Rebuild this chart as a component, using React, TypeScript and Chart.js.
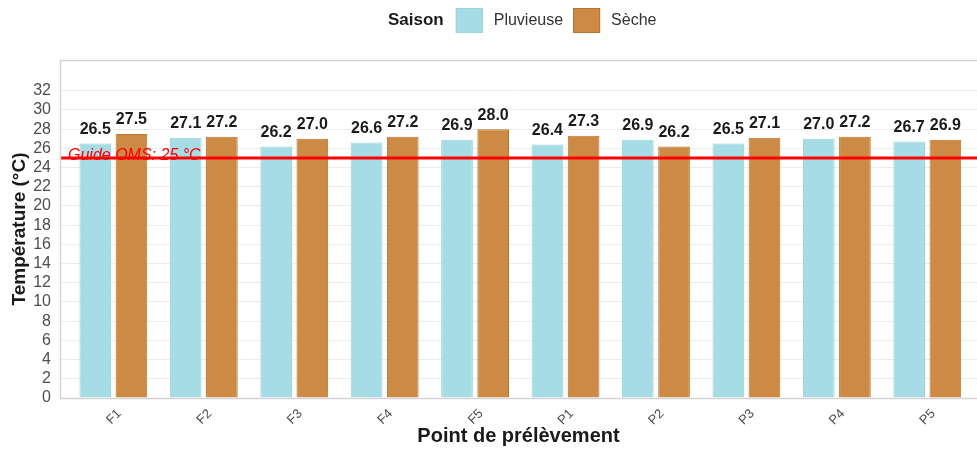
import React, { useEffect, useRef } from "react";
import { Chart, registerables } from "chart.js";

Chart.register(...registerables);

const categories = ["F1", "F2", "F3", "F4", "F5", "P1", "P2", "P3", "P4", "P5"];
const pluvieuse = [26.5, 27.1, 26.2, 26.6, 26.9, 26.4, 26.9, 26.5, 27.0, 26.7];
const seche = [27.5, 27.2, 27.0, 27.2, 28.0, 27.3, 26.2, 27.1, 27.2, 26.9];
const seriesNames = ["Pluvieuse", "Sèche"];
const seriesColors = ["#A6DCE5", "#CD8A44"];
const seriesBorders = ["#9DD3DC", "#B8752F"];
const legendTitle = "Saison";
const guideValue = 25;
const guideLabel = "Guide OMS: 25 °C";
const yTickValues = [0, 2, 4, 6, 8, 10, 12, 14, 16, 18, 20, 22, 24, 26, 28, 30, 32];

const FONT = "'Liberation Sans', Arial, sans-serif";

const panelPlugin = {
  id: "panelDeco",
  beforeDraw(chart: any) {
    const { ctx } = chart;
    ctx.save();
    ctx.fillStyle = "#ffffff";
    ctx.fillRect(0, 0, chart.width, chart.height);
    ctx.restore();
  },
  afterDatasetsDraw(chart: any) {
    const { ctx, chartArea, scales } = chart;
    // value labels
    ctx.save();
    ctx.font = `bold 16px ${FONT}`;
    ctx.fillStyle = "#1a1a1a";
    ctx.textAlign = "center";
    ctx.textBaseline = "bottom";
    chart.data.datasets.forEach((ds: any, di: number) => {
      const meta = chart.getDatasetMeta(di);
      meta.data.forEach((bar: any, i: number) => {
        const v = ds.data[i].y;
        ctx.fillText(v.toFixed(1), bar.x, bar.y - 6);
      });
    });
    ctx.restore();
    // guide line
    const y = scales.y.getPixelForValue(guideValue);
    ctx.save();
    ctx.strokeStyle = "#FF0000";
    ctx.lineWidth = 3;
    ctx.beginPath();
    ctx.moveTo(chartArea.left, y);
    ctx.lineTo(chartArea.right, y);
    ctx.stroke();
    ctx.font = `italic 16px ${FONT}`;
    ctx.fillStyle = "#FF0000";
    ctx.textAlign = "left";
    ctx.textBaseline = "alphabetic";
    ctx.fillText(guideLabel, chartArea.left + 8, y + 2);
    ctx.restore();
    // panel border
    ctx.save();
    ctx.strokeStyle = "#D4D4D4";
    ctx.lineWidth = 1.5;
    ctx.strokeRect(chartArea.left + 0.5, chartArea.top + 0.5, chartArea.right - chartArea.left + 5, chartArea.bottom - chartArea.top);
    ctx.restore();
  },
  afterDraw(chart: any) {
    const { ctx } = chart;
    ctx.save();
    const cy = 20;
    let x = 388;
    ctx.textBaseline = "middle";
    ctx.textAlign = "left";
    ctx.font = `bold 17px ${FONT}`;
    ctx.fillStyle = "#1a1a1a";
    ctx.fillText(legendTitle, x, cy);
    x += ctx.measureText(legendTitle).width + 12;
    for (let k = 0; k < 2; k++) {
      ctx.fillStyle = seriesColors[k];
      ctx.fillRect(x, cy - 12, 27, 25);
      ctx.strokeStyle = seriesBorders[k];
      ctx.lineWidth = 1;
      ctx.strokeRect(x + 0.5, cy - 11.5, 26, 24);
      x += 27 + 11;
      ctx.font = `16px ${FONT}`;
      ctx.fillStyle = "#333333";
      ctx.fillText(seriesNames[k], x, cy + 1);
      x += ctx.measureText(seriesNames[k]).width + 10;
    }
    ctx.restore();
  },
};

export default function App() {
  const ref = useRef<HTMLCanvasElement | null>(null);
  useEffect(() => {
    document.body.style.margin = "0";
    if (!ref.current) return;
    const chart = new Chart(ref.current, {
      type: "bar",
      data: {
        datasets: [pluvieuse, seche].map((arr, k) => ({
          label: seriesNames[k],
          data: arr.map((v, i) => ({ x: i, y: v })),
          backgroundColor: seriesColors[k],
          borderColor: seriesBorders[k],
          borderWidth: 1,
          categoryPercentage: 0.8,
          barPercentage: 0.875,
        })),
      },
      options: {
        animation: false,
        responsive: true,
        maintainAspectRatio: false,
        layout: { padding: { top: 60, right: 0, left: 0, bottom: 0 } },
        plugins: { legend: { display: false }, tooltip: { enabled: false } },
        scales: {
          x: {
            type: "linear",
            min: -0.59,
            max: 9.55,
            offset: false,
            afterBuildTicks: (scale: any) => {
              scale.ticks = categories.map((_, i) => ({ value: i }));
            },
            afterFit: (scale: any) => {
              scale.height = 57;
            },
            grid: { display: false, drawTicks: false },
            border: { display: false },
            ticks: {
              autoSkip: false,
              minRotation: 45,
              maxRotation: 45,
              padding: 8,
              labelOffset: 6,
              color: "#4D4D4D",
              font: { family: FONT, size: 13 },
              callback: (v: any) => categories[v] ?? "",
            },
            title: {
              display: true,
              text: "Point de prélèvement",
              color: "#1a1a1a",
              font: { family: FONT, size: 20, weight: "bold" },
              padding: { top: 0, bottom: 7 },
            },
          },
          y: {
            min: 0,
            max: 35.2,
            afterBuildTicks: (scale: any) => {
              scale.ticks = yTickValues.map((v) => ({ value: v }));
            },
            afterFit: (scale: any) => {
              scale.width = 60;
            },
            grid: { color: "#EBEBEB", lineWidth: 1, drawTicks: false },
            border: { display: false },
            ticks: {
              autoSkip: false,
              padding: 9,
              color: "#4D4D4D",
              font: { family: FONT, size: 16 },
            },
            title: {
              display: true,
              text: "Température (°C)",
              color: "#1a1a1a",
              font: { family: FONT, size: 19, weight: "bold" },
              padding: { top: 8, bottom: 0 },
            },
          },
        },
      },
      plugins: [panelPlugin],
    } as any);
    return () => chart.destroy();
  }, []);
  return (
    <div style={{ position: "relative", width: 977, height: 455 }}>
      <canvas ref={ref} />
    </div>
  );
}
